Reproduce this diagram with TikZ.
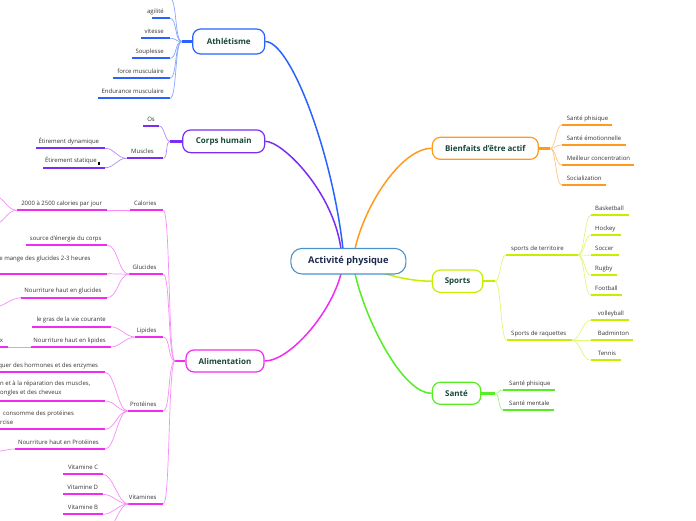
\documentclass[tikz,border=0pt]{standalone}
\usepackage{fontspec}
\setmainfont{Open Sans}
\usetikzlibrary{calc,backgrounds}
\definecolor{cAth}{HTML}{2962FF}
\definecolor{cAthL}{HTML}{86A6FF}
\definecolor{cCor}{HTML}{7B2CF5}
\definecolor{cCorL}{HTML}{B08CFA}
\definecolor{cAli}{HTML}{F02CF0}
\definecolor{cAliL}{HTML}{F88CF8}
\definecolor{cBie}{HTML}{FF9A1F}
\definecolor{cBieL}{HTML}{FFC47E}
\definecolor{cSpo}{HTML}{C4F000}
\definecolor{cSpoL}{HTML}{DDF878}
\definecolor{cSan}{HTML}{55EE22}
\definecolor{cSanL}{HTML}{9CF57E}
\definecolor{cCen}{HTML}{4A92CC}
\definecolor{txtMain}{HTML}{18473A}
\definecolor{txtCen}{HTML}{1E2B4F}
\definecolor{txtLeaf}{HTML}{333333}
\newcommand\lleaf[7]{%
  \coordinate (#1-l) at (#3,#5);
  \coordinate (#1-r) at (#4,#5);
  \draw[ul,#2] (#1-l) -- (#1-r);
  \node[leaftext,anchor=base east] (#1) at (#6,#5-5) {#7};}
\newcommand\rleaf[7]{%
  \coordinate (#1-l) at (#3,#5);
  \coordinate (#1-r) at (#4,#5);
  \draw[ul,#2] (#1-l) -- (#1-r);
  \node[leaftext,anchor=base west] (#1) at (#6,#5-5) {#7};}
\newcommand\lconn[4]{\draw[conn,#1] (#2) .. controls +(-#4,0) and +(#4,0) .. (#3);}
\newcommand\rconn[4]{\draw[conn,#1] (#2) .. controls +(#4,0) and +(-#4,0) .. (#3);}
\begin{document}
\begin{tikzpicture}[x=1pt,y=-1pt,
  mainbox/.style={draw,rounded corners=8pt,line width=1.2pt,fill=white,text=txtMain,
    font=\fontsize{8}{9.6}\selectfont\bfseries,inner sep=0pt},
  leaftext/.style={text=txtLeaf,font=\fontsize{6}{8.6}\selectfont,inner sep=0pt},
  ul/.style={line width=2pt},
  conn/.style={line width=0.7pt},
  hubline/.style={line width=2.4pt},
  trunk/.style={line width=1.5pt}]
\useasboundingbox (0,0) rectangle (696,520);
\clip (0,0) rectangle (696,520);

% central node
\node[draw=cCen,line width=1.1pt,rounded corners=11pt,minimum width=115pt,minimum height=25.5pt,
  inner sep=0pt,fill=white,text=txtCen,font=\fontsize{9.3}{11}\selectfont\bfseries] (cen) at (348.4,261.2) {Activité physique};
\coordinate (pAth) at (343,249);
\coordinate (pCor) at (341,249);
\coordinate (pBie) at (355,249);
\coordinate (pAli) at (341,273.5);
\coordinate (pSan) at (355,273.5);
\coordinate (pSpo) at (383,273);

% main nodes
\node[mainbox,draw=cAth,minimum width=72pt,minimum height=25pt] (ath) at (228.7,41.5) {Athlétisme};
\node[mainbox,draw=cCor,minimum width=82pt,minimum height=22.7pt] (cor) at (223.7,141.3) {Corps humain};
\node[mainbox,draw=cAli,minimum width=78pt,minimum height=22pt] (ali) at (225,361) {Alimentation};
\node[mainbox,draw=cBie,minimum width=106pt,minimum height=22pt] (bie) at (485.3,148.3) {Bienfaits d'être actif};
\node[mainbox,draw=cSpo,minimum width=50.4pt,minimum height=22.3pt] (spo) at (457.5,281.2) {Sports};
\node[mainbox,draw=cSan,minimum width=48.4pt,minimum height=22pt] (san) at (456.5,393.3) {Santé};

\begin{pgfonlayer}{background}
% trunks
\draw[trunk,cAth] (ath.east) .. controls +(25,0) and +(-11,-98) .. (pAth);
\draw[trunk,cCor] (cor.east) .. controls +(17,0) and +(-8,-58) .. (pCor);
\draw[trunk,cAli] (ali.east) .. controls +(25,0) and +(-10,40) .. (pAli);
\draw[trunk,cBie] (pBie) .. controls +(10,-45) and +(-30,0) .. (bie.west);
\draw[trunk,cSan] (pSan) .. controls +(10,45) and +(-30,0) .. (san.west);
\draw[trunk,cSpo] (pSpo) .. controls +(15,5) and +(-15,0) .. (spo.west);
\end{pgfonlayer}

% ---------------- Athlétisme
\coordinate (athH) at (181.7,41.5);
\draw[hubline,cAth] (ath.west) -- (athH);
\coordinate (athT) at (170,-1.7);
\lleaf{ag}{cAth}{151.7}{170}{18.3}{164}{agilité}
\lleaf{vi}{cAth}{141}{170}{38.3}{164}{vitesse}
\lleaf{so}{cAth}{131.7}{170}{58.3}{164}{Souplesse}
\lleaf{fm}{cAth}{113}{170}{78.3}{164}{force musculaire}
\lleaf{em}{cAth}{97.7}{170}{98.3}{164}{Endurance musculaire}
\foreach \t in {athT,ag-r,vi-r,so-r,fm-r,em-r}{\lconn{cAthL}{athH}{\t}{7}}

% ---------------- Corps humain
\coordinate (corH) at (170,141.3);
\draw[hubline,cCor] (cor.west) -- (corH);
\lleaf{os}{cCor}{142.7}{159.3}{126}{155}{Os}
\lleaf{mu}{cCor}{126.7}{163.3}{158.3}{154}{Muscles}
\lleaf{ed}{cCor}{36}{105}{148.3}{99.3}{Étirement dynamique}
\lleaf{es}{cCor}{43}{105}{167.7}{97}{Étirement statique}
\fill[black] (97.5,161.5) rectangle (100.3,164.5);
\lconn{cCorL}{corH}{os-r}{5}
\lconn{cCorL}{corH}{mu-r}{5}
\lconn{cCorL}{mu-l}{ed-r}{10}
\lconn{cCorL}{mu-l}{es-r}{10}

% ---------------- Alimentation
\coordinate (aliH) at (175,361);
\draw[hubline,cAli] (ali.west) -- (aliH);
\lleaf{cal}{cAli}{130}{163.3}{210.3}{156.7}{Calories}
\lleaf{glu}{cAli}{129.3}{163.3}{274.3}{156.7}{Glucides}
\lleaf{lip}{cAli}{135}{163.3}{337}{156.7}{Lipides}
\lleaf{pro}{cAli}{127.7}{163.3}{411}{156.7}{Protéines}
\lleaf{vit}{cAli}{128.3}{163.3}{504}{156.7}{Vitamines}
\foreach \t in {cal-r,glu-r,lip-r,pro-r,vit-r}{\lconn{cAliL}{aliH}{\t}{7}}

% Calories
\lleaf{cj}{cAli}{16.7}{107.3}{210.3}{102.3}{2000 à 2500 calories par jour}
\draw[conn,cAliL] (cal-l) -- (cj-r);
\coordinate (cjA) at (-6,196);
\coordinate (cjB) at (-6,224);
\lconn{cAliL}{cj-l}{cjA}{10}
\lconn{cAliL}{cj-l}{cjB}{10}

% Glucides
\lleaf{gs}{cAli}{26}{107}{245}{101.7}{source d'énergie du corps}
\coordinate (gm-l) at (-5,273.7);
\coordinate (gm-r) at (107,273.7);
\draw[ul,cAli] (gm-l) -- (gm-r);
\node[leaftext,anchor=base east] (gm) at (90.7,260) {e mange des glucides 2-3 heures};
\lleaf{gn}{cAli}{21}{107}{297.7}{101.7}{Nourriture haut en glucides}
\coordinate (gnX) at (-8,308);
\lconn{cAliL}{gn-l}{gnX}{10}
\foreach \t in {gs-r,gm-r,gn-r}{\lconn{cAliL}{glu-l}{\t}{11}}

% Lipides
\lleaf{lg}{cAli}{32.3}{110.7}{326.7}{106}{le gras de la vie courante}
\lleaf{ln}{cAli}{30.7}{110.7}{347}{106}{Nourriture haut en lipides}
\lleaf{lx}{cAli}{-5}{8}{347}{3.3}{x}
\draw[conn,cAliL] (ln-l) -- (lx-r);
\lconn{cAliL}{lip-l}{lg-r}{9}
\lconn{cAliL}{lip-l}{ln-r}{9}

% Protéines
\lleaf{ph}{cAli}{-5}{105}{372.3}{98.3}{quer des hormones et des enzymes}
\coordinate (pr-l) at (-5,401);
\coordinate (pr-r) at (105,401);
\draw[ul,cAli] (pr-l) -- (pr-r);
\node[leaftext,align=left,anchor=south west] (pr) at (0,396) {n et à la réparation des muscles,\\ongles et des cheveux};
\coordinate (pc-l) at (-5,429.3);
\coordinate (pc-r) at (105,429.3);
\draw[ul,cAli] (pc-l) -- (pc-r);
\node[leaftext,align=left,anchor=south west] (pc) at (0,424.3) {\hspace*{3pt}consomme des protéines\\rcise};
\lleaf{pn}{cAli}{15}{105}{449}{99}{Nourriture haut en Protéines}
\coordinate (pnX) at (-8,452);
\lconn{cAliL}{pn-l}{pnX}{8}
\foreach \t in {ph-r,pr-r,pc-r,pn-r}{\lconn{cAliL}{pro-l}{\t}{10}}

% Vitamines
\lleaf{vc}{cAli}{63.3}{103}{474.3}{98.3}{Vitamine C}
\lleaf{vd}{cAli}{63.3}{103}{494.3}{98.3}{Vitamine D}
\lleaf{vb}{cAli}{63.3}{103}{514.3}{98.3}{Vitamine B}
\coordinate (vX) at (103,534.3);
\foreach \t in {vc-r,vd-r,vb-r,vX}{\lconn{cAliL}{vit-l}{\t}{10}}

% ---------------- Bienfaits
\coordinate (bieH) at (550,148.3);
\draw[hubline,cBie] (bie.east) -- (bieH);
\rleaf{b1}{cBie}{561.7}{612.3}{125}{566.7}{Santé phisique}
\rleaf{b2}{cBie}{561.7}{625.7}{145}{566.7}{Santé émotionnelle}
\rleaf{b3}{cBie}{561.7}{634.3}{165}{566.7}{Meilleur concentration}
\rleaf{b4}{cBie}{561.7}{606}{185}{566.7}{Socialization}
\foreach \t in {b1-l,b2-l,b3-l,b4-l}{\rconn{cBieL}{bieH}{\t}{6}}

% ---------------- Sports
\coordinate (spoH) at (495,281.2);
\draw[hubline,cSpo] (spo.east) -- (spoH);
\rleaf{st}{cSpo}{506}{578.3}{255}{511}{sports de territoire}
\rleaf{sr}{cSpo}{506.7}{571.7}{340.3}{511}{Sports de raquettes}
\rconn{cSpoL}{spoH}{st-l}{6}
\rconn{cSpoL}{spoH}{sr-l}{6}
\rleaf{bk}{cSpo}{590.7}{629.3}{215.3}{595}{Basketball}
\rleaf{hk}{cSpo}{590.7}{620.7}{235.3}{595}{Hockey}
\rleaf{sc}{cSpo}{590.7}{619}{255.3}{595}{Soccer}
\rleaf{rg}{cSpo}{590.7}{617.3}{275.3}{595}{Rugby}
\rleaf{fb}{cSpo}{590.7}{621.7}{295.3}{595}{Football}
\foreach \t in {bk-l,hk-l,sc-l,rg-l,fb-l}{\rconn{cSpoL}{st-r}{\t}{6}}
\rleaf{vo}{cSpo}{590.7}{629}{320.3}{597.7}{volleyball}
\rleaf{bd}{cSpo}{590.7}{633.3}{340.3}{597.7}{Badminton}
\rleaf{tn}{cSpo}{590.7}{620.7}{360.3}{597.7}{Tennis}
\foreach \t in {vo-l,bd-l,tn-l}{\rconn{cSpoL}{sr-r}{\t}{9}}

% ---------------- Santé
\coordinate (sanH) at (495,393.3);
\draw[hubline,cSan] (san.east) -- (sanH);
\rleaf{s1}{cSan}{503}{555}{390}{509}{Santé phisique}
\rleaf{s2}{cSan}{503}{554.3}{410}{509}{Santé mentale}
\rconn{cSanL}{sanH}{s1-l}{5}
\rconn{cSanL}{sanH}{s2-l}{5}
\end{tikzpicture}
\end{document}
